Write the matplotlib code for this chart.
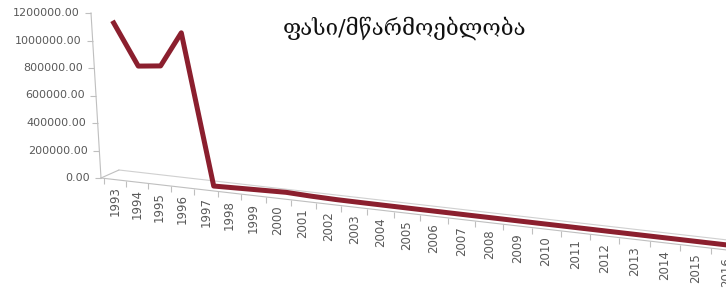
import matplotlib
matplotlib.use('Agg')
import matplotlib.pyplot as plt
import matplotlib.transforms as mtransforms
import numpy as np

# data
years = [str(y) for y in range(1993, 2017)]
ratio = [1110000, 815000, 835000, 1095000, 0, 5000, 10000, 15000,
         8000, 4000, 3000, 2500, 2000, 2000, 1500, 1500, 1200, 1200,
         1000, 1000, 900, 900, 800, 800]
yticks = [0, 200000, 400000, 600000, 800000, 1000000, 1200000]
title = 'ფასი/მწარმოებლობა'

# mild perspective on the category axis (spacing grows to the right)
c = 0.00942
def fwd(x):
    return x + c * x ** 2
def inv(y):
    y = np.maximum(y, -1 / (4 * c))
    return (-1 + np.sqrt(1 + 4 * c * y)) / (2 * c)

fig = plt.figure(figsize=(7.26, 2.9), dpi=100)
fig.patch.set_facecolor('white')
ax = fig.add_axes([101 / 726, 112 / 290, 625 / 726, 165 / 290])
ax.set_xscale('function', functions=(fwd, inv))
ax.set_xlim(-0.644, 22.98)
ax.set_ylim(0, 1200000)
ax.axis('off')

# floor slopes down to the right, vertical axis leans slightly
k = 0.4356
t = 0.016
persp = mtransforms.Affine2D(np.array([[1, -t, 0], [-k, 1, 0], [0, 0, 1]]))
floor = ax.transScale + ax.transLimits + persp + ax.transAxes

def px(dx, dy):
    return mtransforms.ScaledTranslation(dx / 100, dy / 100, fig.dpi_scale_trans)

grey = '#bfbfbf'
x0 = ax.get_xlim()[0]
n = len(years)

# floor edges
ax.plot([x0, n + 0.5], [0, 0], color=grey, lw=0.8, transform=floor, clip_on=False)
ax.plot([x0, n + 0.5], [0, 0], color='#d0d0d0', lw=0.8, transform=floor + px(18, 8), clip_on=False)
ax.annotate('', xy=(x0, 0), xycoords=floor, xytext=(18, 8), textcoords='offset pixels',
            arrowprops=dict(arrowstyle='-', color=grey, lw=0.8, shrinkA=0, shrinkB=0))

# category ticks and labels
bounds = np.arange(n + 1) - 0.5
ax.plot(bounds, np.zeros(n + 1), ls='none', marker=3, ms=4, mew=0.8, color=grey,
        transform=floor, clip_on=False)
for i, yr in enumerate(years):
    ax.text(i, 0, yr, transform=floor + px(0, -7), rotation=90, ha='center', va='top',
            fontsize=8.5, color='#595959', clip_on=False)

# value axis
ax.plot([x0, x0], [0, yticks[-1]], color=grey, lw=0.8, transform=floor, clip_on=False)
ax.plot([x0] * len(yticks), yticks, ls='none', marker=0, ms=4, mew=0.8, color=grey,
        transform=floor, clip_on=False)
for v in yticks:
    ax.text(x0, v, f'{v:.2f}', transform=floor + px(-11, 0), ha='right', va='center',
            fontsize=8, color='#595959', clip_on=False)

# series
ax.plot(range(n), ratio, color='#8b1f2e', lw=3.6, transform=floor + px(8, 4),
        clip_on=False)

fig.text(405 / 726, 1 - 28 / 290, title, ha='center', va='center', fontsize=16,
         color='#111111', family=['DejaVu Serif', 'DejaVu Sans'])

fig.savefig('out.png', dpi=100, facecolor='white')
